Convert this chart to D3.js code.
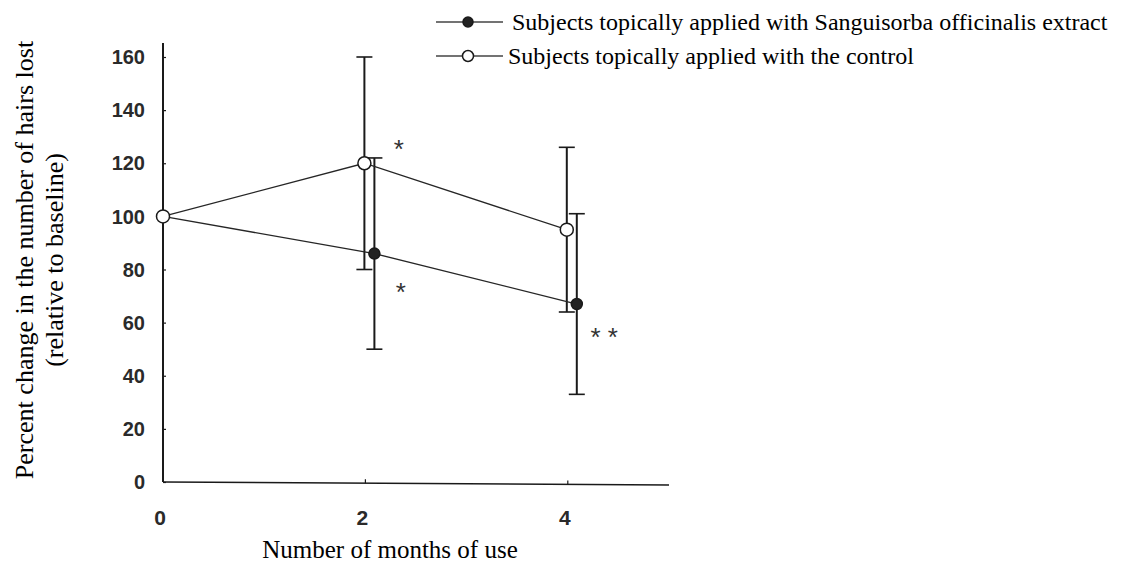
<!DOCTYPE html>
<html>
<head>
<meta charset="utf-8">
<script src="https://cdn.jsdelivr.net/npm/d3@7"></script>
<style>
  body { margin: 0; background: #fff; }
  svg { display: block; }
</style>
</head>
<body>
<div id="chart"></div>
<script>
// Data
const months = [0, 2, 4];
const extractMean = [100, 86, 67];
const extractErr = [0, 36, 34];
const controlMean = [100, 120, 95];
const controlErr = [0, 40, 31];
const yTicks = [0, 20, 40, 60, 80, 100, 120, 140, 160];
const xTicks = [0, 2, 4];
const seriesNames = [
  "Subjects topically applied with Sanguisorba officinalis extract",
  "Subjects topically applied with the control"
];
// significance marks: [month, value, label]
const marks = [[2.33, 129, "*"], [2.35, 75, "*"], [4.36, 58, "* *"]];

const W = 1123, H = 564;
const svg = d3.select("#chart").append("svg")
  .attr("width", W)
  .attr("height", H);

const x = d3.scaleLinear().domain([0, 5]).range([163, 669]);
const y = d3.scaleLinear().domain([0, 160]).range([482, 57]);

const ink = "#1a1a1a";
const serif = "'Liberation Serif', 'Times New Roman', serif";
const sans = "'Liberation Sans', Arial, sans-serif";

// dodge so the two series don't sit on top of each other
const dodge = { extract: 9, control: -1 };

const series = [
  { key: "extract", mean: extractMean, err: extractErr, filled: true },
  { key: "control", mean: controlMean, err: controlErr, filled: false }
];

// Axes
const yAxis = svg.append("g")
  .attr("transform", "translate(" + x(0) + ",0)")
  .call(d3.axisRight(y).tickValues(yTicks).tickSize(3).tickFormat(""));
yAxis.select(".domain").remove();
yAxis.selectAll("line").attr("stroke", ink).attr("stroke-width", 1.2);

svg.append("line")
  .attr("x1", x(0)).attr("x2", x(0))
  .attr("y1", y(0)).attr("y2", 43)
  .attr("stroke", ink).attr("stroke-width", 2);

svg.append("line")
  .attr("x1", x(0)).attr("x2", x(5))
  .attr("y1", y(0)).attr("y2", y(0) + 3)
  .attr("stroke", ink).attr("stroke-width", 1.6);

// y tick labels
svg.selectAll(".ylab")
  .data(yTicks)
  .enter().append("text")
    .attr("class", "ylab")
    .attr("x", 145)
    .attr("y", d => y(d))
    .attr("dy", "0.36em")
    .attr("text-anchor", "end")
    .style("font-family", sans)
    .style("font-weight", "bold")
    .style("font-size", "20px")
    .attr("fill", "#2a2a2a")
    .text(d => d);

// x ticks + labels
svg.selectAll(".xtick")
  .data(xTicks.filter(d => d > 0))
  .enter().append("line")
    .attr("x1", d => x(d)).attr("x2", d => x(d))
    .attr("y1", d => y(0) + d * 0.6).attr("y2", d => y(0) + d * 0.6 - 4)
    .attr("stroke", ink).attr("stroke-width", 1.2);

svg.selectAll(".xlab")
  .data(xTicks)
  .enter().append("text")
    .attr("class", "xlab")
    .attr("x", d => x(d) - 3)
    .attr("y", 517)
    .attr("dy", "0.36em")
    .attr("text-anchor", "middle")
    .style("font-family", sans)
    .style("font-weight", "bold")
    .style("font-size", "21px")
    .attr("fill", "#2a2a2a")
    .text(d => d);

// Axis titles
svg.append("text")
  .attr("x", 390)
  .attr("y", 549)
  .attr("dy", "0.35em")
  .attr("text-anchor", "middle")
  .style("font-family", serif)
  .style("font-size", "25px")
  .text("Number of months of use");

const ytitle = svg.append("text")
  .attr("transform", "translate(24,260) rotate(-90)")
  .attr("text-anchor", "middle")
  .style("font-family", serif)
  .style("font-size", "26px");
ytitle.append("tspan").attr("x", 0).attr("dy", "0.35em").text("Percent change in the number of hairs lost");
ytitle.append("tspan").attr("x", 0).attr("dy", "1.15em").text("(relative to baseline)");

// Error bars
series.forEach(s => {
  const pts = months.map((m, i) => ({ m: m, v: s.mean[i], e: s.err[i] })).filter(d => d.e > 0);
  const g = svg.append("g");
  g.selectAll(".bar").data(pts).enter().append("line")
    .attr("x1", d => x(d.m) + dodge[s.key]).attr("x2", d => x(d.m) + dodge[s.key])
    .attr("y1", d => y(d.v - d.e)).attr("y2", d => y(d.v + d.e))
    .attr("stroke", ink).attr("stroke-width", 2);
  [-1, 1].forEach(sign => {
    g.selectAll(".cap" + sign).data(pts).enter().append("line")
      .attr("x1", d => x(d.m) + dodge[s.key] - 8).attr("x2", d => x(d.m) + dodge[s.key] + 8)
      .attr("y1", d => y(d.v + sign * d.e)).attr("y2", d => y(d.v + sign * d.e))
      .attr("stroke", ink).attr("stroke-width", 1.6);
  });
});

// Lines
const line = d3.line()
  .x(d => d[0])
  .y(d => d[1]);

series.forEach(s => {
  const pts = months.map((m, i) => [x(m) + (m > 0 ? dodge[s.key] : 0), y(s.mean[i])]);
  svg.append("path")
    .attr("d", line(pts))
    .attr("fill", "none")
    .attr("stroke", "#262626")
    .attr("stroke-width", 1.3);
});

// Markers (control drawn last so it sits on top at month 0)
series.forEach(s => {
  svg.selectAll(".pt-" + s.key)
    .data(months.map((m, i) => ({ m: m, v: s.mean[i] })))
    .enter().append("circle")
      .attr("cx", d => x(d.m) + (d.m > 0 ? dodge[s.key] : 0))
      .attr("cy", d => y(d.v))
      .attr("r", s.filled ? 5.5 : 6.5)
      .attr("fill", s.filled ? "#222" : "#fff")
      .attr("stroke", ink)
      .attr("stroke-width", 1.5);
});

// Significance marks
svg.selectAll(".mark")
  .data(marks)
  .enter().append("text")
    .attr("x", d => x(d[0]))
    .attr("y", d => y(d[1]))
    .attr("dy", "0.7em")
    .attr("text-anchor", "middle")
    .style("font-family", sans)
    .style("font-size", "26px")
    .attr("fill", "#333")
    .text(d => d[2]);

// Legend
const legend = svg.selectAll(".legend")
  .data(series)
  .enter().append("g")
    .attr("class", "legend")
    .attr("transform", (d, i) => "translate(436," + (22 + i * 34) + ")");

legend.append("line")
  .attr("x1", 0).attr("x2", 67)
  .attr("stroke", "#444").attr("stroke-width", 1.3);

legend.append("circle")
  .attr("cx", 32)
  .attr("r", d => d.filled ? 5 : 5.5)
  .attr("fill", d => d.filled ? "#222" : "#fff")
  .attr("stroke", ink)
  .attr("stroke-width", 1.5);

legend.append("text")
  .attr("x", (d, i) => i === 0 ? 76 : 72)
  .attr("dy", "0.35em")
  .style("font-family", serif)
  .style("font-size", "24px")
  .text((d, i) => seriesNames[i]);
</script>
</body>
</html>
